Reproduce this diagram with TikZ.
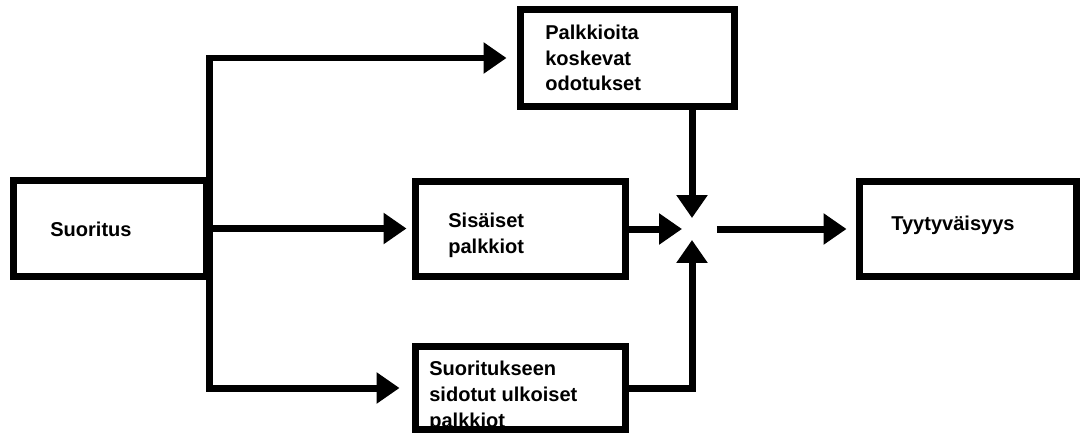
\documentclass[tikz,border=0pt]{standalone}
\usepackage{fontspec}
\setmainfont{Liberation Sans}
\usetikzlibrary{arrows.meta}

\begin{document}
\begin{tikzpicture}[x=0.02cm, y=-0.02cm,
    box/.style={draw, line width=0.14cm, inner sep=0pt},
    txt/.style={anchor=base west, align=left, inner sep=0pt, font=\bfseries\fontsize{11.4}{14.7}\selectfont},
    wire/.style={line width=0.14cm, line join=miter},
    arr/.style={wire, -{Triangle[length=0.46cm, width=0.6cm]}}]

    \useasboundingbox (0,0) rectangle (1080,436);

    % boxes
    \node[box, minimum width=3.86cm, minimum height=1.92cm] (suor) at (110,228.5) {};
    \node[box, minimum width=4.3cm, minimum height=1.93cm] (palk) at (627.5,58) {};
    \node[box, minimum width=4.2cm, minimum height=1.9cm] (sis) at (520.5,229) {};
    \node[box, minimum width=4.2cm, minimum height=1.68cm] (ulk) at (520.5,388) {};
    \node[box, minimum width=4.34cm, minimum height=1.9cm] (tyyt) at (968,229) {};
    \coordinate (hub) at (692,229);

    % texts (base = last line)
    \node[txt] (suortxt) at (50,236) {Suoritus};
    \node[txt] (palktxt) at (545,91) {Palkkioita\\koskevat\\odotukset};
    \node[txt] (sistxt) at (448,253) {Sisäiset\\palkkiot};
    \node[txt] (ulktxt) at (429,427) {Suoritukseen\\sidotut ulkoiset\\palkkiot};
    \node[txt] (tyyttxt) at (891,230) {Tyytyväisyys};

    % connectors
    \draw[arr, shorten >=0.2cm] (suor.east) -- (suor.east |- palk.west) -- (palk.west); % Suoritus -> odotukset
    \draw[arr, shorten >=0.11cm] (suor.east) -- (suor.east -| sis.west); % Suoritus -> sisaiset
    \draw[arr, shorten >=0.25cm] (suor.east) -- (suor.east |- ulk.west) -- (ulk.west); % Suoritus -> ulkoiset
    \draw[arr, shorten >=0.22cm] (palk.south -| hub) -- (hub); % odotukset -> hub
    \draw[arr, shorten >=0.2cm] (sis.east) -- (hub); % sisaiset -> hub
    \draw[arr, shorten >=0.22cm] (ulk.east) -| (hub); % ulkoiset -> hub
    \draw[arr, shorten <=0.5cm, shorten >=0.19cm] (hub) -- (tyyt.west); % hub -> Tyytyvaisyys

\end{tikzpicture}
\end{document}
